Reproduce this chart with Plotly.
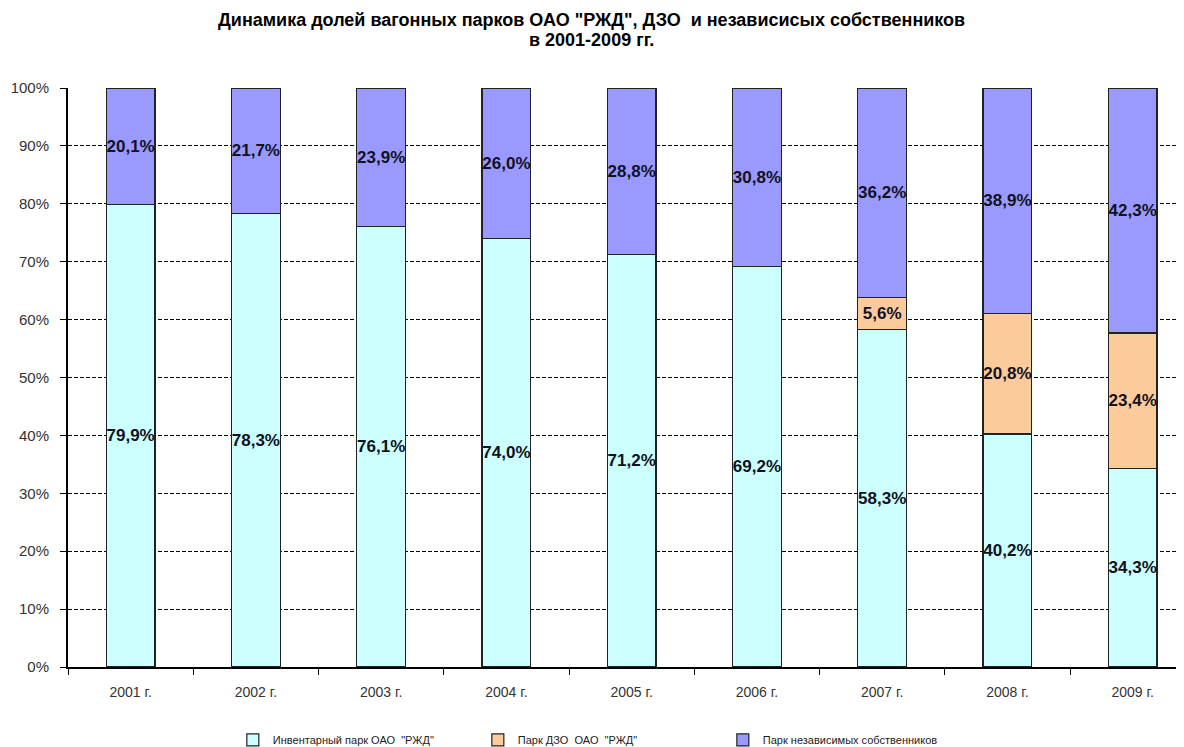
import plotly.graph_objects as go

years = ["2001 г.", "2002 г.", "2003 г.", "2004 г.", "2005 г.", "2006 г.", "2007 г.", "2008 г.", "2009 г."]
inventory = [79.9, 78.3, 76.1, 74.0, 71.2, 69.2, 58.3, 40.2, 34.3]
dzo = [0, 0, 0, 0, 0, 0, 5.6, 20.8, 23.4]
independent = [20.1, 21.7, 23.9, 26.0, 28.8, 30.8, 36.2, 38.9, 42.3]

series_names = ['Инвентарный парк ОАО  "РЖД"', 'Парк ДЗО  ОАО  "РЖД"', 'Парк независимых собственников']
colors = ["#CCFFFF", "#FCCB9C", "#9999FF"]
title_lines = ['Динамика долей вагонных парков ОАО "РЖД", ДЗО  и независисых собственников',
               'в 2001-2009 гг.']

NARROW = "Liberation Sans Narrow, Arial Narrow, Liberation Sans, Arial, sans-serif"
LABEL = "Liberation Sans, Arial, sans-serif"

def fmt(v):
    return ("%.1f%%" % v).replace(".", ",") if v > 0 else ""

fig = go.Figure()
for name, vals, col in zip(series_names, [inventory, dzo, independent], colors):
    fig.add_trace(go.Bar(
        x=years, y=vals, name=name,
        marker=dict(color=col, line=dict(color="#222222", width=1.2)),
        text=[fmt(v) for v in vals],
        textposition="inside", insidetextanchor="middle",
        textangle=0, constraintext="none",
        textfont=dict(family=LABEL, size=17, color="#111122", weight="bold"),
        width=0.39,
    ))

for line, ypos in zip(title_lines, [1.1174, 1.0829]):
    fig.add_annotation(
        text=line, xref="paper", yref="paper", x=0.4695, y=ypos,
        xanchor="center", yanchor="middle", showarrow=False,
        font=dict(family=NARROW, size=18, color="#000000", weight="bold"),
    )

fig.update_layout(
    barmode="stack",
    barnorm="percent",
    width=1176, height=739,
    paper_bgcolor="white", plot_bgcolor="white",
    margin=dict(l=60, r=0, t=80, b=80, autoexpand=False),
    uniformtext=dict(minsize=17, mode="show"),
    showlegend=True,
    legend=dict(
        orientation="h", x=0.477, xanchor="center", y=-0.126, yanchor="middle",
        yref="paper", entrywidth=200,
        font=dict(family=LABEL, size=11, color="#222222"),
        traceorder="normal",
    ),
    xaxis=dict(
        range=[-0.5, 8.41],
        showline=True, linecolor="#000000", linewidth=1.5,
        ticks="outside", ticklen=6, tickcolor="#000000", tickson="boundaries",
        tickfont=dict(family=NARROW, size=14, color="#333333"),
        ticklabelstandoff=11,
        showgrid=False,
    ),
    yaxis=dict(
        range=[0, 100], tickvals=[0, 10, 20, 30, 40, 50, 60, 70, 80, 90, 100],
        ticktext=["0%", "10%", "20%", "30%", "40%", "50%", "60%", "70%", "80%", "90%", "100%"],
        showline=True, linecolor="#000000", linewidth=2,
        ticks="outside", ticklen=6, tickcolor="#000000",
        tickfont=dict(family=NARROW, size=15, color="#333333"),
        ticklabelstandoff=8,
        showgrid=True, gridcolor="#000000", gridwidth=1, griddash="4px,2px",
        zeroline=False,
    ),
)

fig.write_html("out.html")
